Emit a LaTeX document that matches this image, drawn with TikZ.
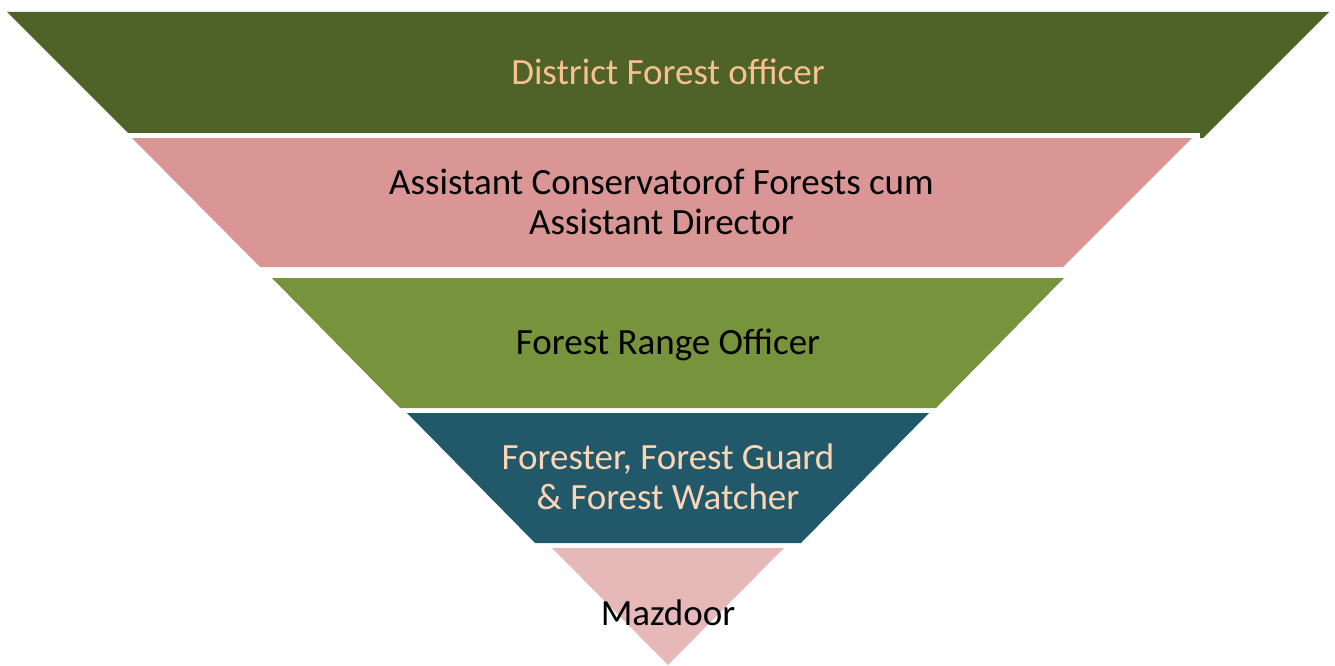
\documentclass[tikz,border=0pt]{standalone}
\usepackage{fontspec}
\setmainfont{Carlito}
\definecolor{olive}{HTML}{4F6228}
\definecolor{rose}{HTML}{D99694}
\definecolor{leaf}{HTML}{77933C}
\definecolor{teal2}{HTML}{22596A}
\definecolor{blush}{HTML}{E6B9B8}
\definecolor{peach}{HTML}{FAC090}
\definecolor{peachlight}{HTML}{FCD5B5}
\begin{document}
\begin{tikzpicture}[x=1pt,y=-1pt,
  lbl/.style={font=\fontsize{37}{40}\selectfont, align=center, inner sep=0pt, anchor=base}]
\useasboundingbox[fill=white] (0,0) rectangle (1335,666);
% bands
\fill[olive] (7,12) -- (1329,12) -- (1203,138) -- (1200,138) -- (1200,133) -- (128,133) -- cycle;
\fill[rose] (132,138) -- (1192,138) -- (1063,267) -- (260,267) -- cycle;
\fill[leaf] (272,278) -- (1064,278) -- (936,408) -- (400,408) -- cycle;
\fill[teal2] (407,413) -- (929,413) -- (801,543) -- (535,543) -- cycle;
\fill[blush] (552,548) -- (784,548) -- (668,665) -- cycle;
% labels
\node[lbl, text=peach] (dfo) at (668,85) {District Forest officer};
\node[lbl, text=black] (acf) at (661.5,234) {Assistant Conservatorof Forests cum\\Assistant Director};
\node[lbl, text=black] (fro) at (668,354) {Forest Range Officer};
\node[lbl, text=peachlight] (fg) at (668,509) {Forester, Forest Guard\\\& Forest Watcher};
\node[lbl, text=black] (mz) at (668,625) {Mazdoor};
\end{tikzpicture}
\end{document}
